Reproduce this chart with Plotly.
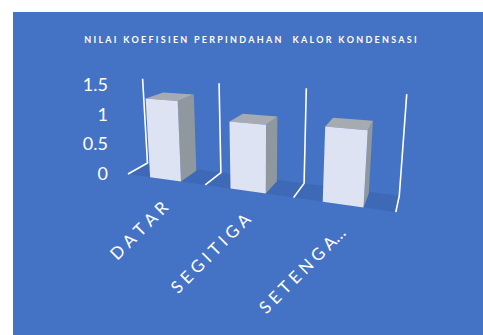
import numpy as np
import plotly.graph_objects as go

# ---- data -------------------------------------------------------------
categories = ["DATAR", "SEGITIGA", "SETENGA\u2026"]
values = [1.3, 1.05, 1.1]
y_ticks = [0, 0.5, 1, 1.5]
y_tick_labels = ["0", "0.5", "1", "1.5"]
title_text = "NILAI KOEFISIEN PERPINDAHAN  KALOR KONDENSASI"

# ---- page / style -----------------------------------------------------
W, H = 483, 335
BG_BLUE = "#4472C4"
FLOOR_BLUE = "#3E69B6"
FRONT = "#DDE3F2"
SIDE = "#8F979F"
TOP = "#A6ABB1"
FONT = "Lato"

BAR_HALF = 0.2      # gap width 150 %  -> bar width 0.4 category
BAR_DEPTH = 0.9
WALL_Z = 1.0
Y_MAX = 1.5

# perspective camera of the 3-D column chart (world X=category, Y=value, Z=depth)
CAMERA = np.array([
    [66.405203, -7.956924, 30.195352, 165.370017],
    [-0.700827, -64.220026, -0.300425, 179.323473],
    [-0.065083, -0.030623, 0.068266, 1.0],
])


def proj(X, Y, Z):
    h = CAMERA @ np.array([X, Y, Z, 1.0])
    return h[0] / h[2], h[1] / h[2]


def poly(points):
    xs, ys = zip(*[proj(*p) for p in points])
    return list(xs) + [xs[0]], list(ys) + [ys[0]]


def spaced(text, sep):
    # letter-spacing: separator between letters, ellipsis kept tight
    out = ""
    for j, ch in enumerate(text):
        if j and ch != "\u2026":
            out += sep
        out += ch
    return out


fig = go.Figure()

n = len(categories)
seps = [i - 0.5 for i in range(n + 1)]

# floor
fx, fy = poly([(seps[0], 0, 0), (seps[-1], 0, 0), (seps[-1], 0, WALL_Z), (seps[0], 0, WALL_Z)])
fig.add_trace(go.Scatter(x=fx, y=fy, fill="toself", fillcolor=FLOOR_BLUE, mode="none",
                         hoverinfo="skip", showlegend=False))

# category gridlines: back-wall vertical + floor segment
for s in seps:
    gx, gy = zip(*[proj(s, Y_MAX, WALL_Z), proj(s, 0, WALL_Z), proj(s, 0, 0)])
    fig.add_trace(go.Scatter(x=gx, y=gy, mode="lines", line=dict(color="white", width=1.6),
                             hoverinfo="skip", showlegend=False))

# columns
for i, (cat, v) in enumerate(zip(categories, values)):
    x0, x1 = i - BAR_HALF, i + BAR_HALF
    z0, z1 = 0.0, BAR_DEPTH
    faces = [
        ([(x1, 0, z0), (x1, 0, z1), (x1, v, z1), (x1, v, z0)], SIDE),
        ([(x0, v, z0), (x1, v, z0), (x1, v, z1), (x0, v, z1)], TOP),
        ([(x0, 0, z0), (x1, 0, z0), (x1, v, z0), (x0, v, z0)], FRONT),
    ]
    for pts, col in faces:
        px, py = poly(pts)
        fig.add_trace(go.Scatter(x=px, y=py, fill="toself", fillcolor=col, mode="none",
                                 name=cat, hoverinfo="skip", showlegend=False))

# value axis sits at the front-left corner
v0 = proj(seps[0], 0, 0)[1]
v1 = proj(seps[0], Y_MAX, 0)[1]
k = (v1 - v0) / Y_MAX
yr = [(H - v0) / k, (0 - v0) / k]
ax_u = proj(seps[0], 0, 0)[0]

layout_axes = {}
layout_axes["yaxis2"] = dict(
    overlaying="y", anchor="free", position=(ax_u - 20) / W, range=yr,
    tickvals=y_ticks, ticktext=y_tick_labels, showgrid=False, zeroline=False,
    showline=False, ticks="", tickfont=dict(family=FONT, size=18, color="white"),
)

# category labels, one axis per column so each follows the floor perspective
label_sep = "\u2005"
for i, cat in enumerate(categories):
    u, vb = proj(i, 0, 0)
    name = f"xaxis{i + 2}"
    layout_axes[name] = dict(
        overlaying="x", anchor="free", position=1 - (vb + 14) / H, range=[0, W],
        tickvals=[u - 2], ticktext=[spaced(cat, label_sep)], tickangle=-45,
        showgrid=False, zeroline=False, showline=False, ticks="",
        tickfont=dict(family=FONT, size=17, color="white"),
    )
    fig.add_trace(go.Scatter(x=[None], y=[None], xaxis=f"x{i + 2}", yaxis="y",
                             showlegend=False, hoverinfo="skip"))
fig.add_trace(go.Scatter(x=[None], y=[None], xaxis="x", yaxis="y2",
                         showlegend=False, hoverinfo="skip"))

title_str = spaced(title_text, "\u2005")

fig.update_layout(
    width=W, height=H,
    margin=dict(l=0, r=0, t=0, b=0),
    paper_bgcolor="white", plot_bgcolor="rgba(0,0,0,0)",
    showlegend=False,
    xaxis=dict(range=[0, W], visible=False, domain=[0, 1]),
    yaxis=dict(range=[H, 0], visible=False, domain=[0, 1]),
    title=dict(text=title_str, x=250.5 / W, y=1 - 40 / H, xanchor="center", yanchor="middle",
               font=dict(family=FONT, size=9, color="white", weight="bold")),
    shapes=[dict(type="rect", xref="paper", yref="paper", x0=13 / W, x1=1, y0=0, y1=1 - 12 / H,
                 fillcolor=BG_BLUE, line=dict(width=0), layer="below")],
    **layout_axes,
)

fig.write_html("out.html", config={"displayModeBar": False})
